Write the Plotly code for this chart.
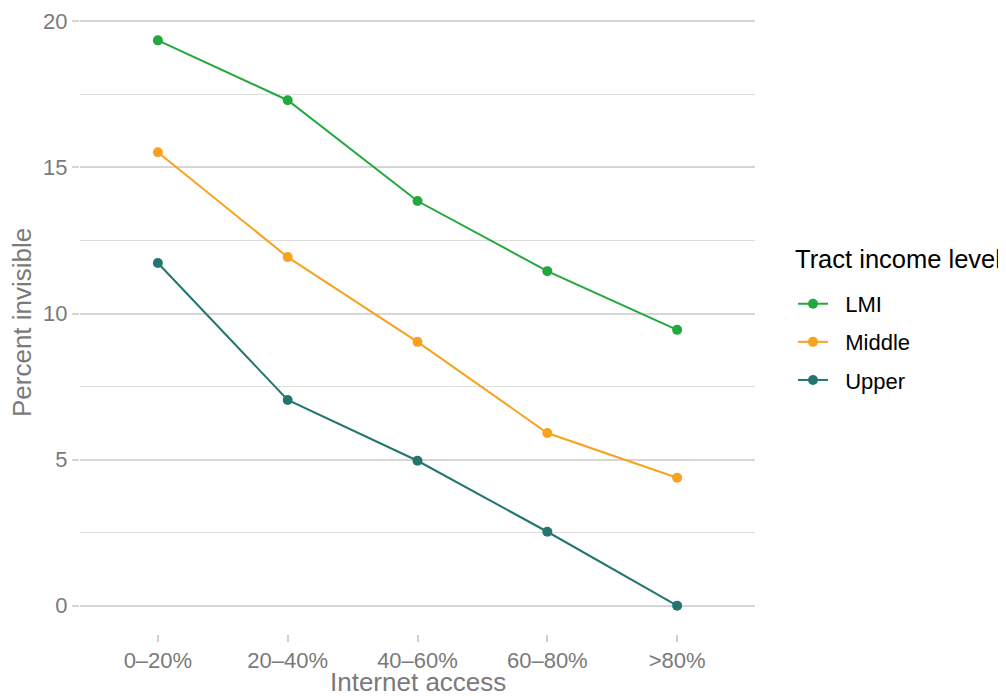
import plotly.graph_objects as go

categories = ["0–20%", "20–40%", "40–60%", "60–80%", ">80%"]
lmi = [19.35, 17.30, 13.85, 11.45, 9.44]
middle = [15.52, 11.93, 9.03, 5.91, 4.38]
upper = [11.73, 7.04, 4.96, 2.53, 0.0]

series_names = ["LMI", "Middle", "Upper"]
series_values = [lmi, middle, upper]
colors = ["#22A83C", "#F8A21D", "#23766F"]

fig = go.Figure()
for name, vals, col in zip(series_names, series_values, colors):
    fig.add_trace(go.Scatter(
        x=categories, y=vals, name="\u00a0\u00a0" + name, mode="lines+markers",
        line=dict(color=col, width=2),
        marker=dict(color=col, size=10),
        legendgroup=name,
    ))

font_family = "Liberation Sans, Arial, sans-serif"
gray = "#7a7a7a"
# page body has an 8px default margin, so the figure is 8px smaller
fig.update_layout(
    width=998, height=688,
    margin=dict(l=72, r=251, t=4, b=62, autoexpand=False),
    paper_bgcolor="white", plot_bgcolor="white",
    font=dict(family=font_family),
    showlegend=True,
    legend=dict(
        font=dict(size=22, color="black"),
        x=1.0563, xanchor="left", y=0.5644, yanchor="top",
        tracegroupgap=6.5, itemwidth=30,
    ),
    xaxis=dict(
        type="category", range=[-0.6, 4.6], automargin=False,
        showgrid=False, zeroline=False, showline=False,
        ticks="outside", ticklen=7, tickcolor="#d0d0d0", tickwidth=1.5,
        tickfont=dict(size=22, color=gray),
    ),
    yaxis=dict(
        range=[-0.97, 20.32], automargin=False,
        tickvals=[0, 5, 10, 15, 20],
        showgrid=True, gridcolor="#d6d6d6", gridwidth=2,
        zeroline=False, showline=False,
        ticks="outside", ticklen=7, tickcolor="#d6d6d6", tickwidth=2,
        tickfont=dict(size=22, color=gray),
        minor=dict(tickvals=[2.5, 7.5, 12.5, 17.5], showgrid=True, gridcolor="#dedede", gridwidth=1, ticks=""),
    ),
    annotations=[
        dict(text="Internet access", xref="paper", yref="paper", x=0.5, y=-0.0772,
             xanchor="center", yanchor="middle", showarrow=False,
             font=dict(size=26, color=gray)),
        dict(text="Percent invisible", xref="paper", yref="paper", x=-0.0859, y=0.5,
             xanchor="center", yanchor="middle", showarrow=False, textangle=-90,
             font=dict(size=26, color=gray)),
        dict(text="Tract income level", xref="paper", yref="paper", x=1.0563, y=0.603,
             xanchor="left", yanchor="middle", showarrow=False,
             font=dict(size=25.5, color="black")),
    ],
)

fig.write_html("out.html")
